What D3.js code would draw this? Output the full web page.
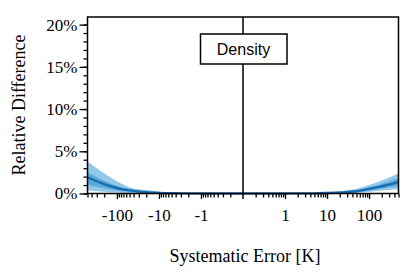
<!DOCTYPE html>
<html><head><meta charset="utf-8">
<script src="https://cdn.jsdelivr.net/npm/d3@7"></script>
<style>html,body{margin:0;padding:0;background:#fff;}svg{display:block;}</style>
</head><body>
<svg id="c" width="415" height="273"></svg>
<script>
// ---- data (relative difference in %) ----
// negative systematic errors: magnitudes
const leftMag   = [500, 300, 200, 100, 50, 20, 10, 5, 2, 1, 0.1];
const leftMean  = [1.9, 1.45, 1.1, 0.65, 0.37, 0.16, 0.08, 0.03, 0.01, 0, 0];
const leftOutHi = [3.8, 3.0, 2.4, 1.45, 0.75, 0.4, 0.22, 0.1, 0.03, 0.01, 0];
const leftOutLo = [0.35, 0.28, 0.22, 0.12, 0.06, 0.02, 0.01, 0, 0, 0, 0];
const leftInHi  = [2.5, 1.95, 1.5, 0.9, 0.5, 0.24, 0.12, 0.05, 0.02, 0, 0];
const leftInLo  = [1.05, 0.8, 0.62, 0.37, 0.2, 0.08, 0.04, 0.01, 0, 0, 0];
// positive systematic errors
const rightMag   = [0.1, 1, 2, 5, 10, 20, 50, 100, 200, 300, 500];
const rightMean  = [0, 0, 0.01, 0.02, 0.06, 0.12, 0.27, 0.55, 0.85, 1.05, 1.38];
const rightOutHi = [0, 0.01, 0.02, 0.05, 0.12, 0.25, 0.55, 1.0, 1.55, 1.9, 2.4];
const rightOutLo = [0, 0, 0, 0, 0.01, 0.03, 0.08, 0.2, 0.35, 0.42, 0.5];
const rightInHi  = [0, 0, 0.01, 0.03, 0.08, 0.17, 0.38, 0.72, 1.15, 1.45, 1.85];
const rightInLo  = [0, 0, 0, 0.01, 0.03, 0.07, 0.16, 0.36, 0.58, 0.7, 0.88];

const xMajor = [1, 10, 100];
const xMinor = [0.2,0.3,0.4,0.5,0.6,0.7,0.8,0.9, 2,3,4,5,6,7,8,9, 20,30,40,50,60,70,80,90, 200,300,400,500];
const yMajor = [0, 5, 10, 15, 20];
const yMinor = d3.range(0, 21, 1);

const labelText = "Density";
const xTitle = "Systematic Error [K]";
const yTitle = "Relative Difference";

// ---- layout ----
const svg = d3.select("#c");
const x0 = 87.5, x1 = 398.5, xc = 243, yTop = 17, yBot = 193.5;
const xL = d3.scaleLog().domain([500, 0.1]).range([x0, xc]);
const xR = d3.scaleLog().domain([0.1, 500]).range([xc, x1]);
const y = d3.scaleLinear().domain([0, 20.9]).range([yBot, yTop]);

const cOut = "#92c8ea", cIn = "#5ea9dc", cLine = "#176bb0";

function side(mag, mean, oHi, oLo, iHi, iLo, xs) {
  const pts = mag.map((m, i) => ({x: xs(m), mean: mean[i], oHi: oHi[i], oLo: oLo[i], iHi: iHi[i], iLo: iLo[i]}))
    .sort((a, b) => a.x - b.x);
  const curve = d3.curveMonotoneX;
  svg.append("path").datum(pts).attr("fill", cOut)
    .attr("d", d3.area().x(d => d.x).y0(d => y(d.oLo)).y1(d => y(d.oHi)).curve(curve));
  svg.append("path").datum(pts).attr("fill", cIn)
    .attr("d", d3.area().x(d => d.x).y0(d => y(d.iLo)).y1(d => y(d.iHi)).curve(curve));
  svg.append("path").datum(pts).attr("fill", "none").attr("stroke", cLine).attr("stroke-width", 2.4)
    .attr("d", d3.line().x(d => d.x).y(d => y(d.mean)).curve(curve));
}
side(leftMag, leftMean, leftOutHi, leftOutLo, leftInHi, leftInLo, xL);
side(rightMag, rightMean, rightOutHi, rightOutLo, rightInHi, rightInLo, xR);

// ---- x axis ticks ----
const serif = "'Liberation Serif','Times New Roman',serif";
function xAxis(scale, fmt) {
  const gMin = svg.append("g").attr("transform", `translate(0,${yBot})`)
    .call(d3.axisBottom(scale).tickValues(xMinor).tickSize(4).tickFormat(""));
  const gMaj = svg.append("g").attr("transform", `translate(0,${yBot})`)
    .call(d3.axisBottom(scale).tickValues(xMajor).tickSize(5.5).tickPadding(10).tickFormat(fmt));
  [gMin, gMaj].forEach(g => {
    g.select(".domain").remove();
    g.selectAll("line").attr("stroke", "#000").attr("stroke-width", 1.3);
    g.selectAll("text").attr("font-family", serif).attr("font-size", 17).attr("fill", "#000");
  });
}
xAxis(xL, d => "-" + d);
xAxis(xR, d => "" + d);

// ---- y axis ticks ----
const gyMin = svg.append("g").attr("transform", `translate(${x0},0)`)
  .call(d3.axisLeft(y).tickValues(yMinor).tickSize(4).tickFormat(""));
const gyMaj = svg.append("g").attr("transform", `translate(${x0},0)`)
  .call(d3.axisLeft(y).tickValues(yMajor).tickSize(8).tickPadding(2).tickFormat(d => d + "%"));
[gyMin, gyMaj].forEach(g => {
  g.select(".domain").remove();
  g.selectAll("line").attr("stroke", "#000").attr("stroke-width", 1.3);
  g.selectAll("text").attr("font-family", serif).attr("font-size", 17).attr("fill", "#000");
});

// ---- frame and centre line ----
svg.append("rect").attr("x", x0).attr("y", yTop).attr("width", x1 - x0).attr("height", yBot - yTop)
  .attr("fill", "none").attr("stroke", "#000").attr("stroke-width", 1.5);
svg.append("line").attr("x1", xc).attr("x2", xc).attr("y1", yTop).attr("y2", yBot + 5.5)
  .attr("stroke", "#000").attr("stroke-width", 1.5);

// ---- label box ----
svg.append("rect").attr("x", 200.5).attr("y", 34).attr("width", 86.5).attr("height", 30)
  .attr("fill", "#fff").attr("stroke", "#000").attr("stroke-width", 1.5);
svg.append("text").attr("x", 243.5).attr("y", 55).attr("text-anchor", "middle")
  .attr("font-family", "'Liberation Sans',Arial,sans-serif").attr("font-size", 16).text(labelText);

// ---- titles ----
svg.append("text").attr("x", 245).attr("y", 261.5).attr("text-anchor", "middle")
  .attr("font-family", serif).attr("font-size", 18).text(xTitle);
svg.append("text").attr("transform", "translate(24.5,105) rotate(-90)").attr("text-anchor", "middle")
  .attr("font-family", serif).attr("font-size", 18).text(yTitle);
</script>
</body></html>
